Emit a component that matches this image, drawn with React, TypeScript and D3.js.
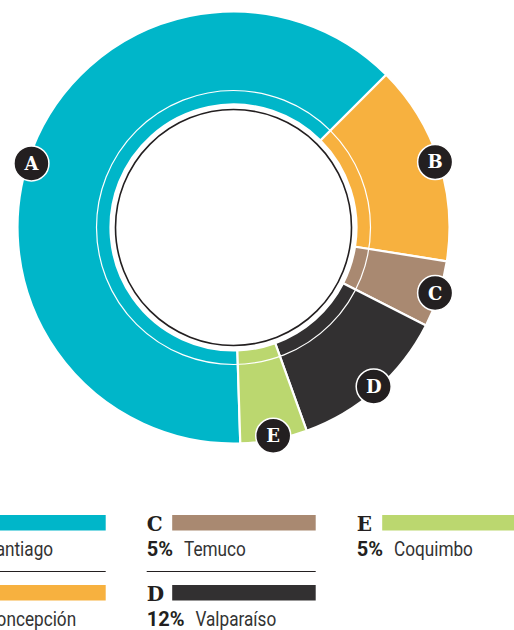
import React from 'react';
import * as d3 from 'd3';

const categories = ['A', 'B', 'C', 'D', 'E'];
const names = ['Santiago', 'Concepción', 'Temuco', 'Valparaíso', 'Coquimbo'];
const values = [63, 15, 5, 12, 5];
const colors = ['#00b6c9', '#f7b13f', '#a98971', '#323031', '#bbd76f'];
const legendCol = [0, 0, 1, 1, 2];
const legendRow = [0, 1, 0, 1, 0];

const W = 514, H = 630;
const cx = 233.5, cy = 227.5;
const rOuter = 216, rInner = 123, rLine = 137, rCore = 118, rLabel = 212;
const startDeg = 178.2;
const labelAngleAdj = [-4, 0, 0, 0, 0];

const ink = '#231f20';

function measure(text: string, font: string) {
  const c = document.createElement('canvas').getContext('2d');
  if (!c) return text.length * 10;
  c.font = font;
  return c.measureText(text).width;
}

export default function App() {
  const start = (startDeg * Math.PI) / 180;
  const pie = d3.pie<number>().sort(null).value((d) => d).startAngle(start).endAngle(start + 2 * Math.PI);
  const arcs = pie(values);
  const arc = d3.arc<d3.PieArcDatum<number>>().innerRadius(rInner).outerRadius(rOuter);

  const colX = d3.scaleLinear().domain([0, 1]).range([-63.3, 146.7]);
  const rowY = d3.scaleLinear().domain([0, 1]).range([515, 585]);

  return (
    <svg width={W} height={H} style={{ position: 'absolute', left: 0, top: 0 }}>
      <g transform={`translate(${cx},${cy})`}>
        {arcs.map((a, i) => (
          <path key={i} d={arc(a) || ''} fill={colors[i]} stroke="#fff" strokeWidth={2.2} />
        ))}
        <circle r={rLine} fill="none" stroke="#fff" strokeWidth={1.2} />
        <circle r={rCore} fill="#fff" stroke={ink} strokeWidth={1.6} />
        {arcs.map((a, i) => {
          const ang = (a.startAngle + a.endAngle) / 2 + (labelAngleAdj[i] * Math.PI) / 180;
          const x = rLabel * Math.sin(ang);
          const y = -rLabel * Math.cos(ang);
          return (
            <g key={i} transform={`translate(${x},${y})`}>
              <circle r={17.5} fill={ink} stroke="#fff" strokeWidth={1.5} />
              <text
                textAnchor="middle"
                y={6.5}
                fill="#fff"
                fontFamily="'DejaVu Serif', serif"
                fontWeight="bold"
                fontSize={18}
              >
                {categories[i]}
              </text>
            </g>
          );
        })}
      </g>
      <g>
        {categories.map((c, i) => {
          const x0 = colX(legendCol[i]);
          const y0 = rowY(legendRow[i]);
          const pct = `${values[i]}%`;
          const pw = measure(pct, "bold 20px Roboto");
          return (
            <g key={i}>
              <text x={x0} y={y0 + 16} fill={ink} fontFamily="'DejaVu Serif', serif" fontWeight="bold" fontSize={20}>
                {c}
              </text>
              <rect x={x0 + 25.5} y={y0} width={143.5} height={15.5} fill={colors[i]} />
              <text x={x0} y={y0 + 40.5} fill={ink} fontFamily="Roboto, sans-serif" fontWeight="bold" fontSize={20}>
                {pct}
              </text>
              <text
                transform={`translate(${x0 + pw + 11},${y0 + 40.5}) scale(0.86,1)`}
                fill="#333"
                fontFamily="Roboto, sans-serif"
                fontSize={20}
              >
                {names[i]}
              </text>
              {legendRow[i] === 0 && legendCol.filter((cc) => cc === legendCol[i]).length > 1 && (
                <line x1={x0} x2={x0 + 169} y1={y0 + 56.5} y2={y0 + 56.5} stroke={ink} strokeWidth={1.2} />
              )}
            </g>
          );
        })}
      </g>
    </svg>
  );
}
